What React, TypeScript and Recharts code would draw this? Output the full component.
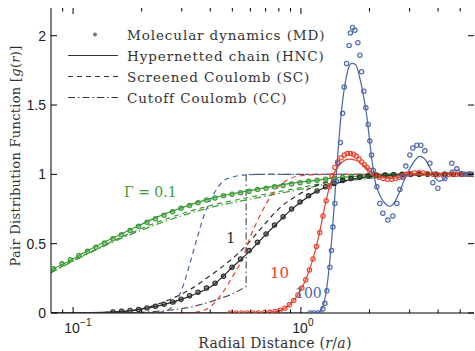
import React from 'react';
import { ComposedChart, Line, XAxis, YAxis } from 'recharts';

// Γ = 0.1
const g01MdR = [0.082, 0.0894, 0.0974, 0.106, 0.1157, 0.126, 0.1374, 0.1497, 0.1631, 0.1778, 0.1937, 0.2111, 0.23, 0.2507, 0.2732, 0.2977, 0.3244, 0.3535, 0.3852, 0.4198, 0.4575, 0.4985, 0.5432, 0.592, 0.645, 0.703, 0.766, 0.835, 0.91, 0.991, 1.08, 1.177, 1.283, 1.398, 1.523, 1.66, 1.809, 1.971, 2.148, 2.341, 2.551, 2.78, 3.029, 3.301, 3.597, 3.92, 4.272, 4.655, 5.072, 5.527];
const g01MdY = [0.32, 0.355, 0.385, 0.415, 0.445, 0.475, 0.505, 0.535, 0.565, 0.595, 0.625, 0.655, 0.68, 0.705, 0.73, 0.755, 0.775, 0.795, 0.815, 0.83, 0.845, 0.857, 0.868, 0.879, 0.89, 0.9, 0.91, 0.92, 0.93, 0.94, 0.95, 0.958, 0.965, 0.972, 0.978, 0.983, 0.987, 0.99, 0.993, 0.995, 0.997, 0.998, 0.999, 1.0, 1.0, 1.0, 1.0, 1.0, 1.0, 1.0];
const g01HncR = [0.08, 0.0975, 0.119, 0.145, 0.178, 0.218, 0.258, 0.326, 0.4, 0.5, 0.6, 0.73, 0.9, 1.13, 1.3, 1.5, 1.8, 2.2, 2.8, 3.5, 5.75];
const g01HncY = [0.31, 0.38, 0.46, 0.53, 0.6, 0.67, 0.72, 0.78, 0.825, 0.86, 0.885, 0.91, 0.935, 0.955, 0.968, 0.978, 0.988, 0.994, 0.998, 1.0, 1.0];
const g01ScR = [0.08, 0.119, 0.178, 0.258, 0.326, 0.4, 0.5, 0.64, 0.8, 1.0, 1.3, 1.7, 2.3, 3.2, 5.75];
const g01ScY = [0.295, 0.44, 0.575, 0.68, 0.735, 0.775, 0.81, 0.845, 0.875, 0.905, 0.94, 0.965, 0.985, 0.997, 1.0];
const g01CcY = [0.29, 0.435, 0.565, 0.665, 0.72, 0.76, 0.795, 0.83, 0.862, 0.893, 0.93, 0.958, 0.98, 0.995, 1.0];

// Γ = 1
const g1MdR = [0.1497, 0.1631, 0.1778, 0.1937, 0.2111, 0.23, 0.2507, 0.2732, 0.2977, 0.3244, 0.3535, 0.3852, 0.4198, 0.4575, 0.4985, 0.5432, 0.592, 0.645, 0.703, 0.766, 0.835, 0.91, 0.991, 1.08, 1.177, 1.283, 1.398, 1.523, 1.66, 1.809, 1.971, 2.148, 2.341, 2.551, 2.78, 3.029, 3.301, 3.597, 3.92, 4.272, 4.655, 5.072, 5.527];
const g1MdY = [0.008, 0.012, 0.018, 0.026, 0.036, 0.048, 0.063, 0.08, 0.1, 0.125, 0.15, 0.18, 0.215, 0.265, 0.33, 0.39, 0.45, 0.51, 0.57, 0.635, 0.695, 0.75, 0.8, 0.845, 0.88, 0.91, 0.935, 0.955, 0.97, 0.98, 0.988, 0.993, 0.996, 0.998, 1.0, 1.0, 1.0, 1.0, 1.0, 1.0, 1.0, 1.0, 1.0];
const g1HncR = [0.08, 0.12, 0.15, 0.183, 0.224, 0.275, 0.336, 0.411, 0.5, 0.6, 0.7, 0.8, 0.9, 1.0, 1.15, 1.4, 1.8, 2.5, 3.5, 5.75];
const g1HncY = [0, 0.002, 0.008, 0.02, 0.042, 0.08, 0.13, 0.2, 0.33, 0.45, 0.565, 0.66, 0.74, 0.8, 0.87, 0.93, 0.975, 0.995, 1.0, 1.0];
const g1ScR = [0.08, 0.15, 0.2, 0.25, 0.326, 0.4, 0.49, 0.57, 0.66, 0.81, 0.99, 1.21, 1.5, 1.9, 2.6, 5.75];
const g1ScY = [0, 0.005, 0.03, 0.08, 0.17, 0.27, 0.38, 0.48, 0.6, 0.76, 0.86, 0.93, 0.97, 0.99, 1.0, 1.0];
const g1CcR = [0.08, 0.2, 0.25, 0.326, 0.4, 0.49, 0.575, 0.575, 5.75];
const g1CcY = [0, 0.005, 0.015, 0.04, 0.08, 0.13, 0.19, 1.0, 1.0];

// Γ = 10
const g10MdR = [0.49, 0.52, 0.55, 0.58, 0.615, 0.65, 0.69, 0.73, 0.77, 0.81, 0.85, 0.89, 0.93, 0.97, 1.01, 1.05, 1.09, 1.13, 1.17, 1.21, 1.25, 1.29, 1.33, 1.37, 1.41, 1.45, 1.5, 1.55, 1.6, 1.65, 1.7, 1.75, 1.8, 1.85, 1.9, 1.95, 2.0, 2.1, 2.2, 2.3, 2.4, 2.5, 2.6, 2.7, 2.8, 2.9, 3.0, 3.15, 3.3, 3.45, 3.6, 3.8, 4.0, 4.2, 4.4, 4.6, 4.8, 5.0, 5.25, 5.5];
const g10MdY = [0, 0, 0, 0, 0, 0, 0.002, 0.005, 0.01, 0.02, 0.035, 0.06, 0.09, 0.13, 0.18, 0.24, 0.31, 0.39, 0.48, 0.58, 0.7, 0.81, 0.91, 0.99, 1.05, 1.09, 1.12, 1.14, 1.15, 1.15, 1.145, 1.13, 1.11, 1.09, 1.07, 1.05, 1.03, 1.0, 0.98, 0.97, 0.965, 0.965, 0.97, 0.98, 0.99, 1.0, 1.005, 1.01, 1.012, 1.01, 1.005, 1.0, 0.997, 0.996, 0.998, 1.0, 1.0, 1.0, 1.0, 1.0];
const g10HncR = [0.08, 0.65, 0.75, 0.85, 0.95, 1.05, 1.13, 1.2, 1.27, 1.33, 1.4, 1.5, 1.62, 1.75, 1.9, 2.05, 2.25, 2.5, 2.8, 3.2, 3.6, 4.2, 5.75];
const g10HncY = [0, 0, 0.006, 0.035, 0.11, 0.24, 0.39, 0.56, 0.76, 0.9, 1.01, 1.08, 1.11, 1.1, 1.06, 1.01, 0.98, 0.97, 0.985, 1.005, 1.01, 1.0, 1.0];
const g10ScR = [0.08, 0.3, 0.36, 0.41, 0.455, 0.5, 0.55, 0.6, 0.66, 0.75, 0.87, 1.0, 1.3, 5.75];
const g10ScY = [0, 0, 0.01, 0.06, 0.15, 0.26, 0.38, 0.55, 0.7, 0.86, 0.96, 0.99, 1.0, 1.0];

// Γ = 100
const g100MdR = [1.1, 1.14, 1.187, 1.224, 1.249, 1.274, 1.3, 1.34, 1.361, 1.382, 1.41, 1.431, 1.453, 1.49, 1.524, 1.549, 1.587, 1.628, 1.648, 1.686, 1.725, 1.778, 1.815, 1.846, 1.889, 1.928, 1.973, 2.007, 2.042, 2.076, 2.154, 2.221, 2.289, 2.408, 2.532, 2.637, 2.718, 2.802, 2.887, 3.007, 3.099, 3.227, 3.36, 3.499, 3.681, 3.794, 3.991, 4.281, 4.596, 4.834, 5.135, 5.402, 5.68];
const g100MdY = [0, 0, 0, 0, 0.03, 0.07, 0.16, 0.33, 0.45, 0.62, 0.79, 0.95, 1.08, 1.23, 1.44, 1.63, 1.8, 1.93, 2.02, 2.06, 2.04, 1.95, 1.86, 1.74, 1.6, 1.48, 1.36, 1.24, 1.14, 1.03, 0.91, 0.79, 0.72, 0.67, 0.7, 0.79, 0.89, 0.98, 1.06, 1.14, 1.19, 1.21, 1.21, 1.17, 1.08, 0.94, 0.9, 0.97, 1.08, 1.04, 1.0, 1.0, 1.0];
const g100HncR = [0.08, 1.175, 1.236, 1.3, 1.34, 1.368, 1.41, 1.44, 1.48, 1.53, 1.59, 1.67, 1.74, 1.81, 1.89, 1.95, 2.0, 2.07, 2.13, 2.22, 2.34, 2.45, 2.58, 2.72, 2.86, 3.0, 3.16, 3.33, 3.5, 3.68, 3.87, 4.07, 4.28, 4.6, 4.88, 5.24, 5.75];
const g100HncY = [0, 0, 0.03, 0.19, 0.38, 0.55, 0.85, 1.07, 1.32, 1.55, 1.72, 1.8, 1.79, 1.7, 1.55, 1.41, 1.25, 1.05, 0.93, 0.85, 0.79, 0.77, 0.8, 0.88, 0.97, 1.04, 1.1, 1.13, 1.11, 1.05, 0.98, 0.95, 0.97, 1.03, 1.03, 1.0, 1.0];
const g100ScR = [0.08, 0.22, 0.25, 0.28, 0.3, 0.326, 0.353, 0.375, 0.4, 0.43, 0.455, 0.5, 0.557, 0.7, 5.75];
const g100ScY = [0, 0, 0.01, 0.07, 0.17, 0.36, 0.56, 0.7, 0.81, 0.9, 0.95, 0.98, 0.995, 1.0, 1.0];

const xTicks = [0.09, 0.1, 0.2, 0.3, 0.4, 0.5, 0.6, 0.7, 0.8, 0.9, 1, 2, 3, 4, 5];
const xMajor: Record<number, string> = { 0.1: '\u22121', 1: '0' };
const yTicks = [0, 0.5, 1, 1.5, 2];

const GREEN = '#3a9a35';
const BLACK = '#2b2b2b';
const RED = '#e8412c';
const BLUE = '#4a66a6';
const SC_DASH = '5 4';
const CC_DASH = '7 3 1.5 3';

const PLOT_TOP = 8;
const PLOT_RIGHT = 474;

const zip = (xs: number[], ys: number[]) => xs.map((x, i) => ({ x, y: ys[i] }));

const XTick = (props: any) => {
  const { x, y, payload } = props;
  const sup = xMajor[payload.value];
  const len = sup ? 6 : 3.5;
  return (
    <g>
      <line x1={x} x2={x} y1={y} y2={y - len} stroke="#000" />
      <line x1={x} x2={x} y1={PLOT_TOP} y2={PLOT_TOP + len} stroke="#000" />
      {sup && (
        <>
          <text x={x - 1} y={y + 20} textAnchor="middle" fontSize={14} fontFamily="Liberation Sans, Arial, sans-serif" fill="#222">10</text>
          <text x={x + 7} y={y + 13} textAnchor="start" fontSize={10} fontFamily="Liberation Sans, Arial, sans-serif" fill="#222">{sup}</text>
        </>
      )}
    </g>
  );
};

const YTick = (props: any) => {
  const { x, y, payload } = props;
  return (
    <g>
      <line x1={x} x2={x + 6} y1={y} y2={y} stroke="#000" />
      <line x1={PLOT_RIGHT - 6} x2={PLOT_RIGHT} y1={y} y2={y} stroke="#000" />
      <text x={x - 5} y={y} dy="0.36em" textAnchor="end" fontSize={14} fontFamily="Liberation Sans, Arial, sans-serif" fill="#222">
        {payload.value}
      </text>
    </g>
  );
};

const mdDot = (color: string, fillOpacity = 0.25) => ({ r: 2.2, stroke: color, strokeWidth: 1.1, fill: color, fillOpacity });

const legendRows = [
  { label: 'Molecular dynamics (MD)', dash: null, dot: true },
  { label: 'Hypernetted chain (HNC)', dash: undefined, dot: false },
  { label: 'Screened Coulomb (SC)', dash: SC_DASH, dot: false },
  { label: 'Cutoff Coulomb (CC)', dash: CC_DASH, dot: false },
];

const serif = '"DejaVu Serif", serif';

export default function App() {
  const lineProps = { type: 'monotone' as const, dot: false, activeDot: false, isAnimationActive: false, strokeWidth: 1.2 };
  return (
    <div style={{ position: 'absolute', left: 0, top: 0, width: 475, height: 351, background: '#fff' }}>
      <ComposedChart width={475} height={351} margin={{ top: 8, right: 1, bottom: 0, left: 0 }}>
        <XAxis dataKey="x" type="number" scale="log" domain={[0.08, 5.75]} allowDataOverflow ticks={xTicks} interval={0}
          tick={<XTick />} tickLine={false} tickSize={0} tickMargin={0} height={38} axisLine={{ stroke: '#000' }} />
        <XAxis xAxisId="top" orientation="top" dataKey="x" type="number" scale="log" domain={[0.08, 5.75]} allowDataOverflow
          height={0} tick={false} tickLine={false} axisLine={{ stroke: '#000' }} />
        <YAxis type="number" domain={[0, 2.2]} allowDataOverflow ticks={yTicks} interval={0} width={51}
          tick={<YTick />} tickLine={false} tickSize={0} tickMargin={0} axisLine={{ stroke: '#000' }} />
        <YAxis yAxisId="right" orientation="right" type="number" domain={[0, 2.2]} width={0}
          tick={false} tickLine={false} axisLine={{ stroke: '#000' }} />

        <Line {...lineProps} data={zip(g01ScR, g01ScY)} dataKey="y" stroke={GREEN} strokeDasharray={SC_DASH} />
        <Line {...lineProps} data={zip(g01ScR, g01CcY)} dataKey="y" stroke={GREEN} strokeDasharray={CC_DASH} />
        <Line {...lineProps} data={zip(g1ScR, g1ScY)} dataKey="y" stroke={BLACK} strokeDasharray={SC_DASH} />
        <Line {...lineProps} type="linear" data={zip(g1CcR, g1CcY)} dataKey="y" stroke="#555" strokeDasharray={CC_DASH} />
        <Line {...lineProps} data={zip(g10ScR, g10ScY)} dataKey="y" stroke={RED} strokeDasharray={SC_DASH} />
        <Line {...lineProps} data={zip(g100ScR, g100ScY)} dataKey="y" stroke={BLUE} strokeDasharray={SC_DASH} />

        <Line {...lineProps} data={zip(g01HncR, g01HncY)} dataKey="y" stroke={GREEN} />
        <Line {...lineProps} data={zip(g1HncR, g1HncY)} dataKey="y" stroke={BLACK} />
        <Line {...lineProps} data={zip(g10HncR, g10HncY)} dataKey="y" stroke={RED} />
        <Line {...lineProps} data={zip(g100HncR, g100HncY)} dataKey="y" stroke={BLUE} />

        <Line {...lineProps} data={zip(g01MdR, g01MdY)} dataKey="y" stroke="none" dot={mdDot(GREEN, 0.45)} />
        <Line {...lineProps} data={zip(g1MdR, g1MdY)} dataKey="y" stroke="none" dot={mdDot(BLACK, 0.45)} />
        <Line {...lineProps} data={zip(g10MdR, g10MdY)} dataKey="y" stroke="none" dot={mdDot(RED, 0.15)} />
        <Line {...lineProps} data={zip(g100MdR, g100MdY)} dataKey="y" stroke="none" dot={mdDot(BLUE, 0.1)} />
      </ComposedChart>

      {legendRows.map((row, i) => (
        <div key={row.label} style={{ position: 'absolute', left: 68, top: 24 + i * 21, height: 21, display: 'flex', alignItems: 'center' }}>
          <svg width={50} height={21} style={{ display: 'block' }}>
            {row.dot
              ? <circle cx={27} cy={10.5} r={2} fill="#777" />
              : <line x1={0} x2={50} y1={10.5} y2={10.5} stroke="#333" strokeWidth={1.2} strokeDasharray={row.dash || undefined} />}
          </svg>
          <span style={{ marginLeft: 9, fontFamily: serif, fontSize: 13.5, color: '#333', whiteSpace: 'nowrap', letterSpacing: 0.9 }}>{row.label}</span>
        </div>
      ))}

      <div style={{ position: 'absolute', left: 124, top: 184, fontFamily: serif, fontSize: 14, color: GREEN, whiteSpace: 'nowrap' }}>Γ = 0.1</div>
      <div style={{ position: 'absolute', left: 226, top: 229, fontFamily: serif, fontSize: 15, color: '#333' }}>1</div>
      <div style={{ position: 'absolute', left: 270, top: 264, fontFamily: serif, fontSize: 15, color: RED }}>10</div>
      <div style={{ position: 'absolute', left: 295, top: 285, fontFamily: serif, fontSize: 14, color: BLUE }}>100</div>

      <div style={{ position: 'absolute', left: 275, top: 343, transform: 'translate(-50%, -50%)', fontFamily: serif, fontSize: 14, color: '#333', whiteSpace: 'nowrap', letterSpacing: 0.3 }}>
        Radial Distance (<i>r</i>/<i>a</i>)
      </div>
      <div style={{ position: 'absolute', left: 15, top: 156, transform: 'translate(-50%, -50%) rotate(-90deg)', fontFamily: serif, fontSize: 13, color: '#333', whiteSpace: 'nowrap', letterSpacing: 0.3 }}>
        Pair Distribution Function [<i>g</i>(<i>r</i>)]
      </div>
    </div>
  );
}
